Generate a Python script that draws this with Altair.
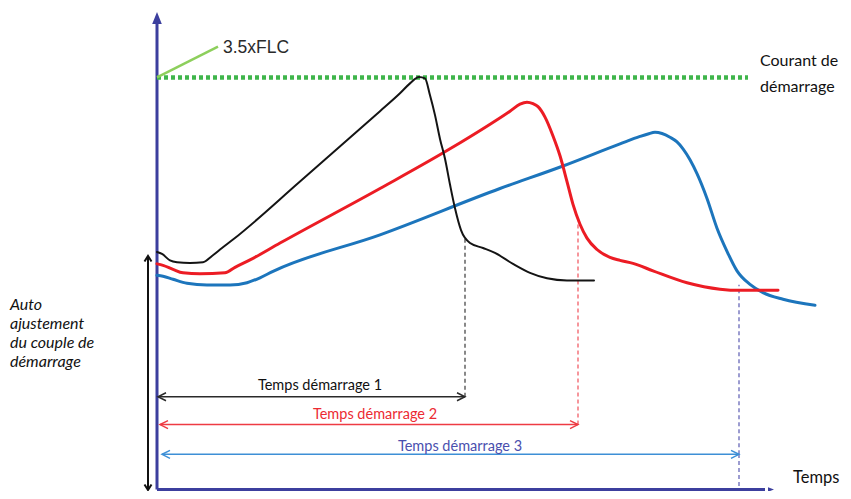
import altair as alt
import pandas as pd

# ---- data (time units t, current units c) ----
black_t = [0, 5, 13, 20, 33, 46, 55, 65, 76, 143, 223, 243, 253, 262, 268, 273, 278, 283, 288, 293, 298, 304, 313, 326, 338, 356, 373, 390, 410, 437]
black_c = [241, 239, 232.5, 230.7, 230, 230.7, 237, 245, 253.5, 312, 383, 401, 411, 417.5, 416, 399, 379, 355, 335, 309, 285, 263, 250, 245, 240, 229, 220, 214.5, 212.3, 212.3]

red_t = [0, 6, 16, 26, 43, 68, 78, 93, 123, 223, 293, 353, 363, 370, 376, 381, 388, 396, 403, 410, 416, 423, 430, 440, 453, 463, 476, 496, 530, 563, 583, 621]
red_c = [229, 227.5, 223.5, 220, 219, 220, 225.5, 233, 250, 305, 345, 383, 390, 392, 390.5, 387.5, 377, 358, 338, 312, 289, 269, 255, 243.5, 235.5, 232.5, 229.5, 222, 210, 203.5, 202.3, 202.5]

blue_t = [0, 6, 16, 30, 50, 73, 90, 103, 116, 223, 343, 406, 463, 483, 491, 498, 505, 513, 520, 526, 533, 540, 550, 560, 570, 580, 593, 606, 626, 658]
blue_c = [217.5, 216.5, 213.5, 209.5, 207.7, 207.7, 210, 215, 221.5, 258.3, 305, 327.7, 350, 357.5, 360, 361.7, 360.5, 356.7, 352, 345, 334, 320, 295, 265, 241.7, 222, 208.3, 200, 193.3, 187.3]

flc_level = 417          # 3.5 x FLC
flc_end = 591
flc_label_pos = [61, 448]

start_times = [308, 421, 582]          # end of each start time
start_top = [255, 272, 208]            # top of the dashed markers
arrow_levels = [95, 67, 37]
arrow_starts = [1, 3, 5]
start_labels = ["Temps démarrage 1", "Temps démarrage 2", "Temps démarrage 3"]
label_t = [163, 218, 303]
label_c = [102, 73, 40]

curve_colors = ["#141414", "#ec1c24", "#1c75bc"]
dash_colors = ["#3a3a3a", "#f0505a", "#5b5bb2"]
arrow_colors = ["#2a2a2a", "#ee3b43", "#3d8fd6"]
label_colors = ["#111111", "#ec2a32", "#4a4fae"]

side_text = "Auto\najustement\ndu couple de\ndémarrage"

axis_color = "#3c3f9e"

# ---- scales ----
XS = alt.Scale(domain=[-149, 686], nice=False, zero=False)
YS = alt.Scale(domain=[0, 487], nice=False, zero=False)


def ex(f="t"):
    return alt.X(f"{f}:Q", scale=XS, axis=None)


def ey(f="c"):
    return alt.Y(f"{f}:Q", scale=YS, axis=None)


def curve(ts, cs, color, width):
    df = pd.DataFrame({"t": ts, "c": cs})
    return alt.Chart(df).mark_line(interpolate="monotone", color=color, strokeWidth=width,
                                   strokeCap="round").encode(x=ex(), y=ey())


layers = []

# axes
yaxis = pd.DataFrame({"t": [0], "c": [1.5], "c2": [475]})
layers.append(alt.Chart(yaxis).mark_rule(color=axis_color, strokeWidth=3).encode(
    x=ex(), y=ey(), y2=alt.Y2("c2:Q")))
xaxis = pd.DataFrame({"t": [0], "t2": [608], "c": [1.5]})
layers.append(alt.Chart(xaxis).mark_rule(color=axis_color, strokeWidth=3).encode(
    x=ex(), x2=alt.X2("t2:Q"), y=ey()))
layers.append(alt.Chart(pd.DataFrame({"t": [0], "c": [483]})).mark_point(
    shape="M0,0L0.8,2L-0.8,2Z", filled=True, size=144, opacity=1, color=axis_color).encode(x=ex(), y=ey()))
layers.append(alt.Chart(pd.DataFrame({"t": [617], "c": [1.5]})).mark_point(
    shape="M0,0L-2,-0.75L-2,0.75Z", filled=True, size=36, opacity=1, color=axis_color).encode(x=ex(), y=ey()))

# green 3.5xFLC dotted level
layers.append(alt.Chart(pd.DataFrame({"t": [0], "t2": [flc_end], "c": [flc_level]})).mark_rule(
    color="#3fb54b", strokeWidth=4.5, strokeDash=[4, 3]).encode(x=ex(), x2=alt.X2("t2:Q"), y=ey()))
layers.append(alt.Chart(pd.DataFrame({"t": [0, flc_label_pos[0]], "c": [flc_level, flc_label_pos[1]]})).mark_line(
    color="#8dcf5c", strokeWidth=2.5).encode(x=ex(), y=ey()))

# dashed start-time markers
dash_df = pd.DataFrame({"t": start_times, "c": arrow_levels, "c2": start_top, "col": dash_colors})
layers.append(alt.Chart(dash_df).mark_rule(strokeWidth=1.2, strokeDash=[4, 3]).encode(
    x=ex(), y=ey(), y2=alt.Y2("c2:Q"), color=alt.Color("col:N", scale=None)))
blue_bottom = pd.DataFrame({"t": [start_times[2]], "c": [5], "c2": [arrow_levels[2]], "col": [dash_colors[2]]})
layers.append(alt.Chart(blue_bottom).mark_rule(strokeWidth=1.2, strokeDash=[4, 3]).encode(
    x=ex(), y=ey(), y2=alt.Y2("c2:Q"), color=alt.Color("col:N", scale=None)))

# curves
layers.append(curve(blue_t, blue_c, curve_colors[2], 3))
layers.append(curve(red_t, red_c, curve_colors[1], 3))
layers.append(curve(black_t, black_c, curve_colors[0], 2))

# horizontal time arrows
arr_df = pd.DataFrame({"t": arrow_starts, "t2": start_times, "c": arrow_levels, "col": arrow_colors})
layers.append(alt.Chart(arr_df).mark_rule(strokeWidth=1.5).encode(
    x=ex(), x2=alt.X2("t2:Q"), y=ey(), color=alt.Color("col:N", scale=None)))
layers.append(alt.Chart(arr_df).mark_point(shape="M2,-1L0,0L2,1", filled=False, size=64, opacity=1,
                                           strokeWidth=1.5).encode(
    x=ex(), y=ey(), color=alt.Color("col:N", scale=None)))
layers.append(alt.Chart(arr_df).mark_point(shape="M-2,-1L0,0L-2,1", filled=False, size=64, opacity=1,
                                           strokeWidth=1.5).encode(
    x=ex("t2"), y=ey(), color=alt.Color("col:N", scale=None)))

# vertical double arrow (auto adjustment)
va = pd.DataFrame({"t": [-9], "c": [1], "c2": [237]})
layers.append(alt.Chart(va).mark_rule(color="#111111", strokeWidth=2).encode(x=ex(), y=ey(), y2=alt.Y2("c2:Q")))
layers.append(alt.Chart(va).mark_point(shape="M-1,-1.6L0,0L1,-1.6", filled=False, size=49, opacity=1,
                                       strokeWidth=2, color="#111111").encode(x=ex(), y=ey()))
layers.append(alt.Chart(va).mark_point(shape="M-1,1.6L0,0L1,1.6", filled=False, size=49, opacity=1,
                                       strokeWidth=2, color="#111111").encode(x=ex(), y=ey("c2")))

# labels
lab_df = pd.DataFrame({"t": label_t, "c": label_c, "label": start_labels, "col": label_colors})
layers.append(alt.Chart(lab_df).mark_text(align="center", baseline="alphabetic", font="Lato", fontSize=14.5).encode(
    x=ex(), y=ey(), text="label:N", color=alt.Color("col:N", scale=None)))

side_df = pd.DataFrame({"t": [-147], "c": [183], "label": [side_text]})
layers.append(alt.Chart(side_df).mark_text(align="left", baseline="alphabetic", font="Lato", fontSize=16,
                                           fontStyle="italic", color="#111111", lineBreak="\n",
                                           lineHeight=19.3).encode(
    x=ex(), y=ey(), text="label:N"))

top_df = pd.DataFrame({"t": [66], "c": [442], "label": ["3.5xFLC"]})
layers.append(alt.Chart(top_df).mark_text(align="left", baseline="alphabetic", font="Liberation Sans",
                                          fontSize=17.5, color="#2a2a2a").encode(x=ex(), y=ey(), text="label:N"))

right_df = pd.DataFrame({"t": [603, 603], "c": [429, 402], "label": ["Courant de", "démarrage"]})
layers.append(alt.Chart(right_df).mark_text(align="left", baseline="alphabetic", font="Lato",
                                            fontSize=16, color="#111111").encode(x=ex(), y=ey(), text="label:N"))
temps_df = pd.DataFrame({"t": [636], "c": [8], "label": ["Temps"]})
layers.append(alt.Chart(temps_df).mark_text(align="left", baseline="alphabetic", font="Lato",
                                            fontSize=16.5, color="#111111").encode(x=ex(), y=ey(), text="label:N"))

chart = alt.layer(*layers).properties(
    width=835, height=483, padding=0, autosize=alt.AutoSizeParams(type="none"),
    background="white"
).configure_view(stroke=None)

chart.save("out.html", embed_options={"renderer": "svg", "actions": False})
